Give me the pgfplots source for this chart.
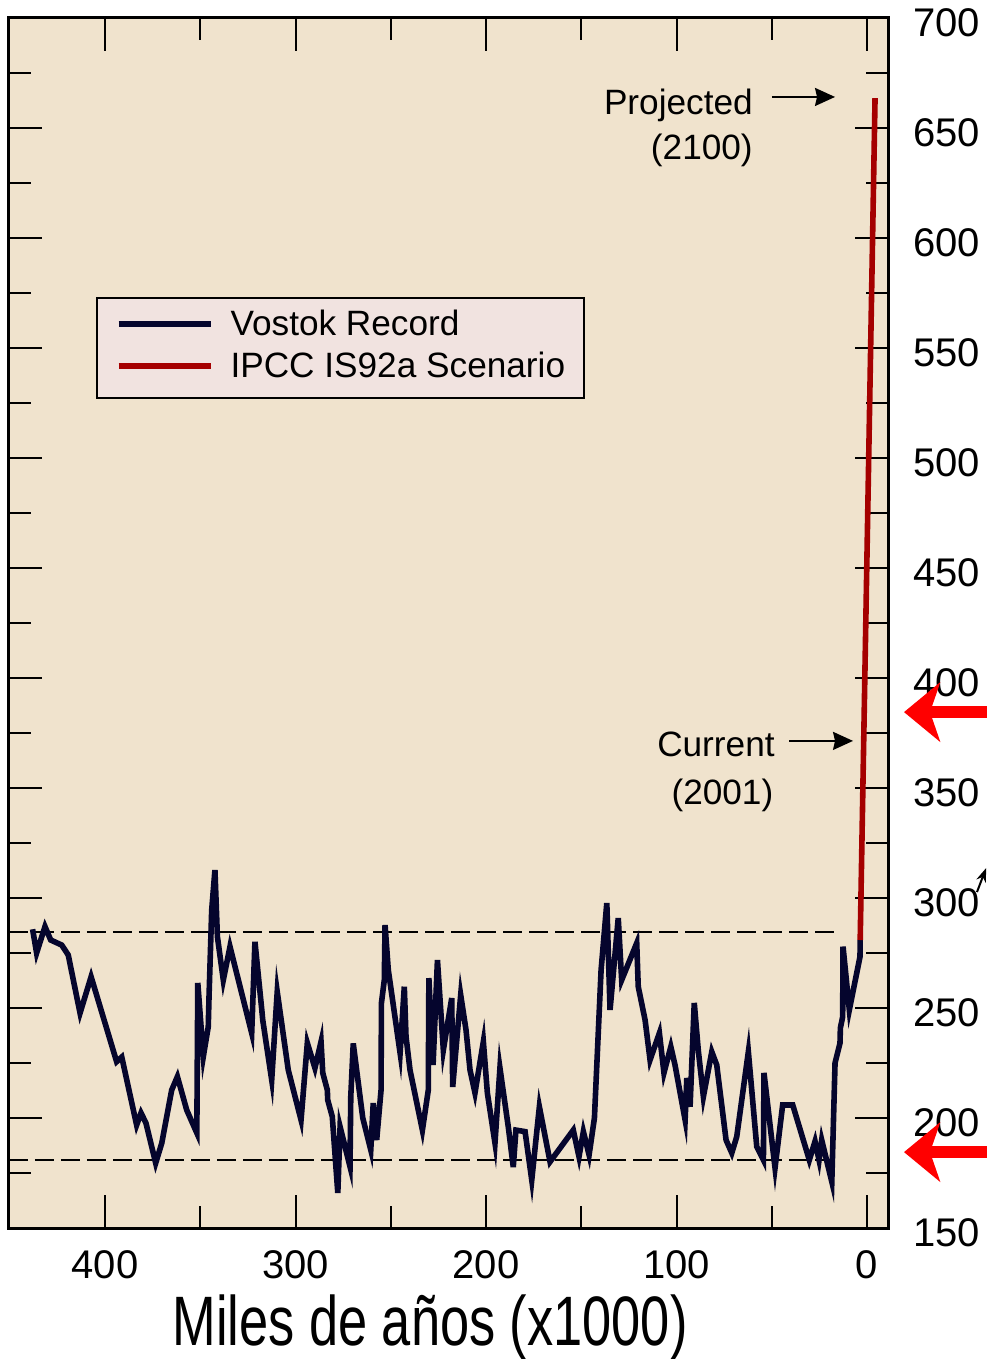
\documentclass[border=0pt]{standalone}
\usepackage{fontspec}
\setmainfont{Liberation Sans}
\usepackage{graphicx}
\usepackage{pgfplots}
\pgfplotsset{compat=1.18}
\usetikzlibrary{arrows.meta}
\definecolor{bgtan}{RGB}{240,227,205}
\definecolor{legbg}{RGB}{241,227,224}
\definecolor{navy}{RGB}{5,5,45}
\definecolor{darkred}{RGB}{165,0,0}
\begin{document}
\begin{tikzpicture}
\begin{axis}[
  scale only axis, width=439.5pt, height=605pt,
  x dir=reverse, xmin=-11, xmax=450.4, ymin=150, ymax=700,
  axis background/.style={fill=bgtan},
  axis line style={line width=1.5pt},
  xtick={0,100,200,300,400}, minor xtick={50,150,250,350},
  ytick={150,200,...,700}, minor ytick={175,225,...,675},
  xticklabel pos=left, yticklabel pos=right,
  xtick pos=both, ytick pos=both,
  tick align=inside,
  major tick length=16.5pt, minor tick length=11pt,
  every tick/.style={black, line width=1pt},
  tick label style={font=\fontsize{20}{21}\selectfont},
  /pgf/number format/assume math mode=true,
  yticklabel style={xshift=9pt, yshift=-2.5pt},
  xticklabel style={yshift=-8pt},
  xlabel={\scalebox{0.748}[1]{\fontsize{35}{37}\selectfont Miles de años (x1000)}},
  xlabel style={at={(axis description cs:0.479,-0.0967)}, anchor=base, inner sep=0pt},
  clip=false,
  legend style={at={(axis description cs:0.099,0.7694)}, anchor=north west,
    fill=legbg, draw=black, line width=0.75pt,
    font=\fontsize{17.6}{20}\selectfont,
    inner xsep=9.5pt, inner ysep=6pt, row sep=4pt,
    nodes={inner sep=0pt, text height=13pt, text depth=4pt}},
  legend cell align=left,
  legend image code/.code={\draw[#1, line width=2.8pt] (0pt,1.5pt) -- (46pt,1.5pt); \path[draw=none] (0pt,-4.5pt) -- (56pt,-4.5pt);},
]
\addplot[forget plot, black, line width=1.2pt, dash pattern=on 9.5pt off 3.5pt] coordinates {(450.4,284.5) (16.8,284.5)};
\addplot[forget plot, black, line width=1.2pt, dash pattern=on 9.5pt off 3.5pt] coordinates {(450.4,180.9) (16.8,180.9)};

\addplot[navy, line width=2.8pt, line join=miter] coordinates {
(438.0,285.8) (435.9,275.0) (431.5,287.0) (428.5,280.9) (422.7,278.6) (419.3,274.1)
(413.1,247.7) (407.3,264.2) (393.9,225.6) (391.2,227.7) (383.4,196.8) (381.1,202.3)
(378.5,197.7) (373.4,179.5) (370.2,188.6) (365.0,212.7) (362.0,218.8) (357.1,203.6)
(351.8,193.2) (351.3,261.4) (348.4,227.9) (345.8,241.5) (345.4,255.1) (344.0,294.5)
(342.3,312.7) (341.0,282.4) (337.9,262.7) (334.4,277.9) (323.0,238.6) (321.3,280.1)
(317.7,249.1) (317.2,244.5) (312.5,217.3) (309.6,257.4) (303.8,221.8) (297.1,199.1)
(293.8,234.1) (289.8,222.7) (286.6,234.7) (285.7,220.5) (283.3,212.7) (283.1,208.2)
(280.7,200.6) (277.8,165.9) (276.6,196.0) (271.4,177.9) (271.0,209.7) (269.7,233.9)
(264.7,200.0) (260.5,185.5) (259.2,206.8) (257.4,190.0) (255.1,212.7) (254.9,252.3)
(253.4,262.7) (253.0,287.7) (251.3,267.3) (245.1,229.5) (242.9,259.7) (242.0,237.0)
(239.9,221.8) (233.4,194.5) (230.3,212.7) (230.0,263.6) (227.8,224.1) (225.5,271.8)
(222.4,230.9) (218.0,254.5) (217.5,214.1) (213.3,255.9) (210.5,240.0) (208.4,221.8)
(205.8,211.4) (201.4,234.7) (199.3,211.4) (195.3,188.6) (192.7,222.7) (188.3,195.9)
(185.7,177.7) (184.3,194.5) (179.5,193.8) (176.0,171.8) (172.0,205.1) (166.4,180.1)
(154.2,194.5) (151.2,182.4) (148.9,193.8) (145.9,183.2) (143.1,200.0) (139.6,267.3)
(136.6,297.7) (134.9,249.1) (130.6,290.9) (128.8,262.7) (120.9,279.5) (120.1,259.7)
(116.5,244.5) (113.9,226.4) (109.0,238.6) (106.6,220.5) (103.0,232.4) (100.8,224.1)
(95.5,199.1) (94.6,218.2) (92.9,205.1) (90.7,252.3) (88.6,230.9) (85.9,209.7)
(81.5,230.1) (78.9,224.1) (74.0,190.0) (71.0,184.1) (68.4,191.5) (62.3,230.1)
(57.9,187.0) (54.4,180.9) (54.1,220.5) (48.3,177.3) (44.3,205.9) (39.0,205.9)
(30.3,180.9) (27.3,189.4) (25.2,180.9) (23.8,190.0) (18.5,171.0) (16.8,225.0)
(14.2,234.0) (14.0,240.9) (12.8,246.0) (12.6,277.9) (9.3,249.1) (3.7,273.3)
(3.6,280.9)
};
\addlegendentry{Vostok Record}
\addplot[darkred, line width=2.8pt] coordinates {(3.6,280.9) (-4.2,663.6)};
\addlegendentry{IPCC IS92a Scenario}

\node[anchor=base east, font=\fontsize{17.6}{20}\selectfont, inner sep=0pt] at (axis cs:59.8,655.9) {Projected};
\node[anchor=base east, font=\fontsize{17.6}{20}\selectfont, inner sep=0pt] at (axis cs:59.8,635.5) {(2100)};
\draw[line width=1pt, -{Stealth[length=10pt,width=9pt,inset=1pt]}] (axis cs:49.9,664.1) -- (axis cs:16.8,664.1);
\node[anchor=base east, font=\fontsize{17.6}{20}\selectfont, inner sep=0pt] at (axis cs:48.3,364.1) {Current};
\node[anchor=base east, font=\fontsize{17.6}{20}\selectfont, inner sep=0pt] at (axis cs:49.0,342.3) {(2001)};
\draw[line width=1pt, -{Stealth[length=10pt,width=9pt,inset=1pt]}] (axis cs:40.9,371.4) -- (axis cs:7.35,371.4);

\draw[red, line width=6pt, -{Stealth[length=18pt,width=29.5pt,inset=5pt]}] (axis cs:-75,384.5) -- (axis cs:-19.4,384.5);
\draw[red, line width=6pt, -{Stealth[length=18pt,width=29.5pt,inset=5pt]}] (axis cs:-75,184.5) -- (axis cs:-19.4,184.5);
\draw[black, line width=1pt, -{Stealth[length=7pt,width=5pt]}] (axis cs:-57.7,302.7) -- (axis cs:-62.5,313.6);

\coordinate (bbsw) at (axis description cs:-0.01024,-0.10826);
\coordinate (bbne) at (axis description cs:1.11149,1.01488);
\end{axis}
\pgfresetboundingbox
\useasboundingbox (bbsw) rectangle (bbne);
\end{tikzpicture}
\end{document}
